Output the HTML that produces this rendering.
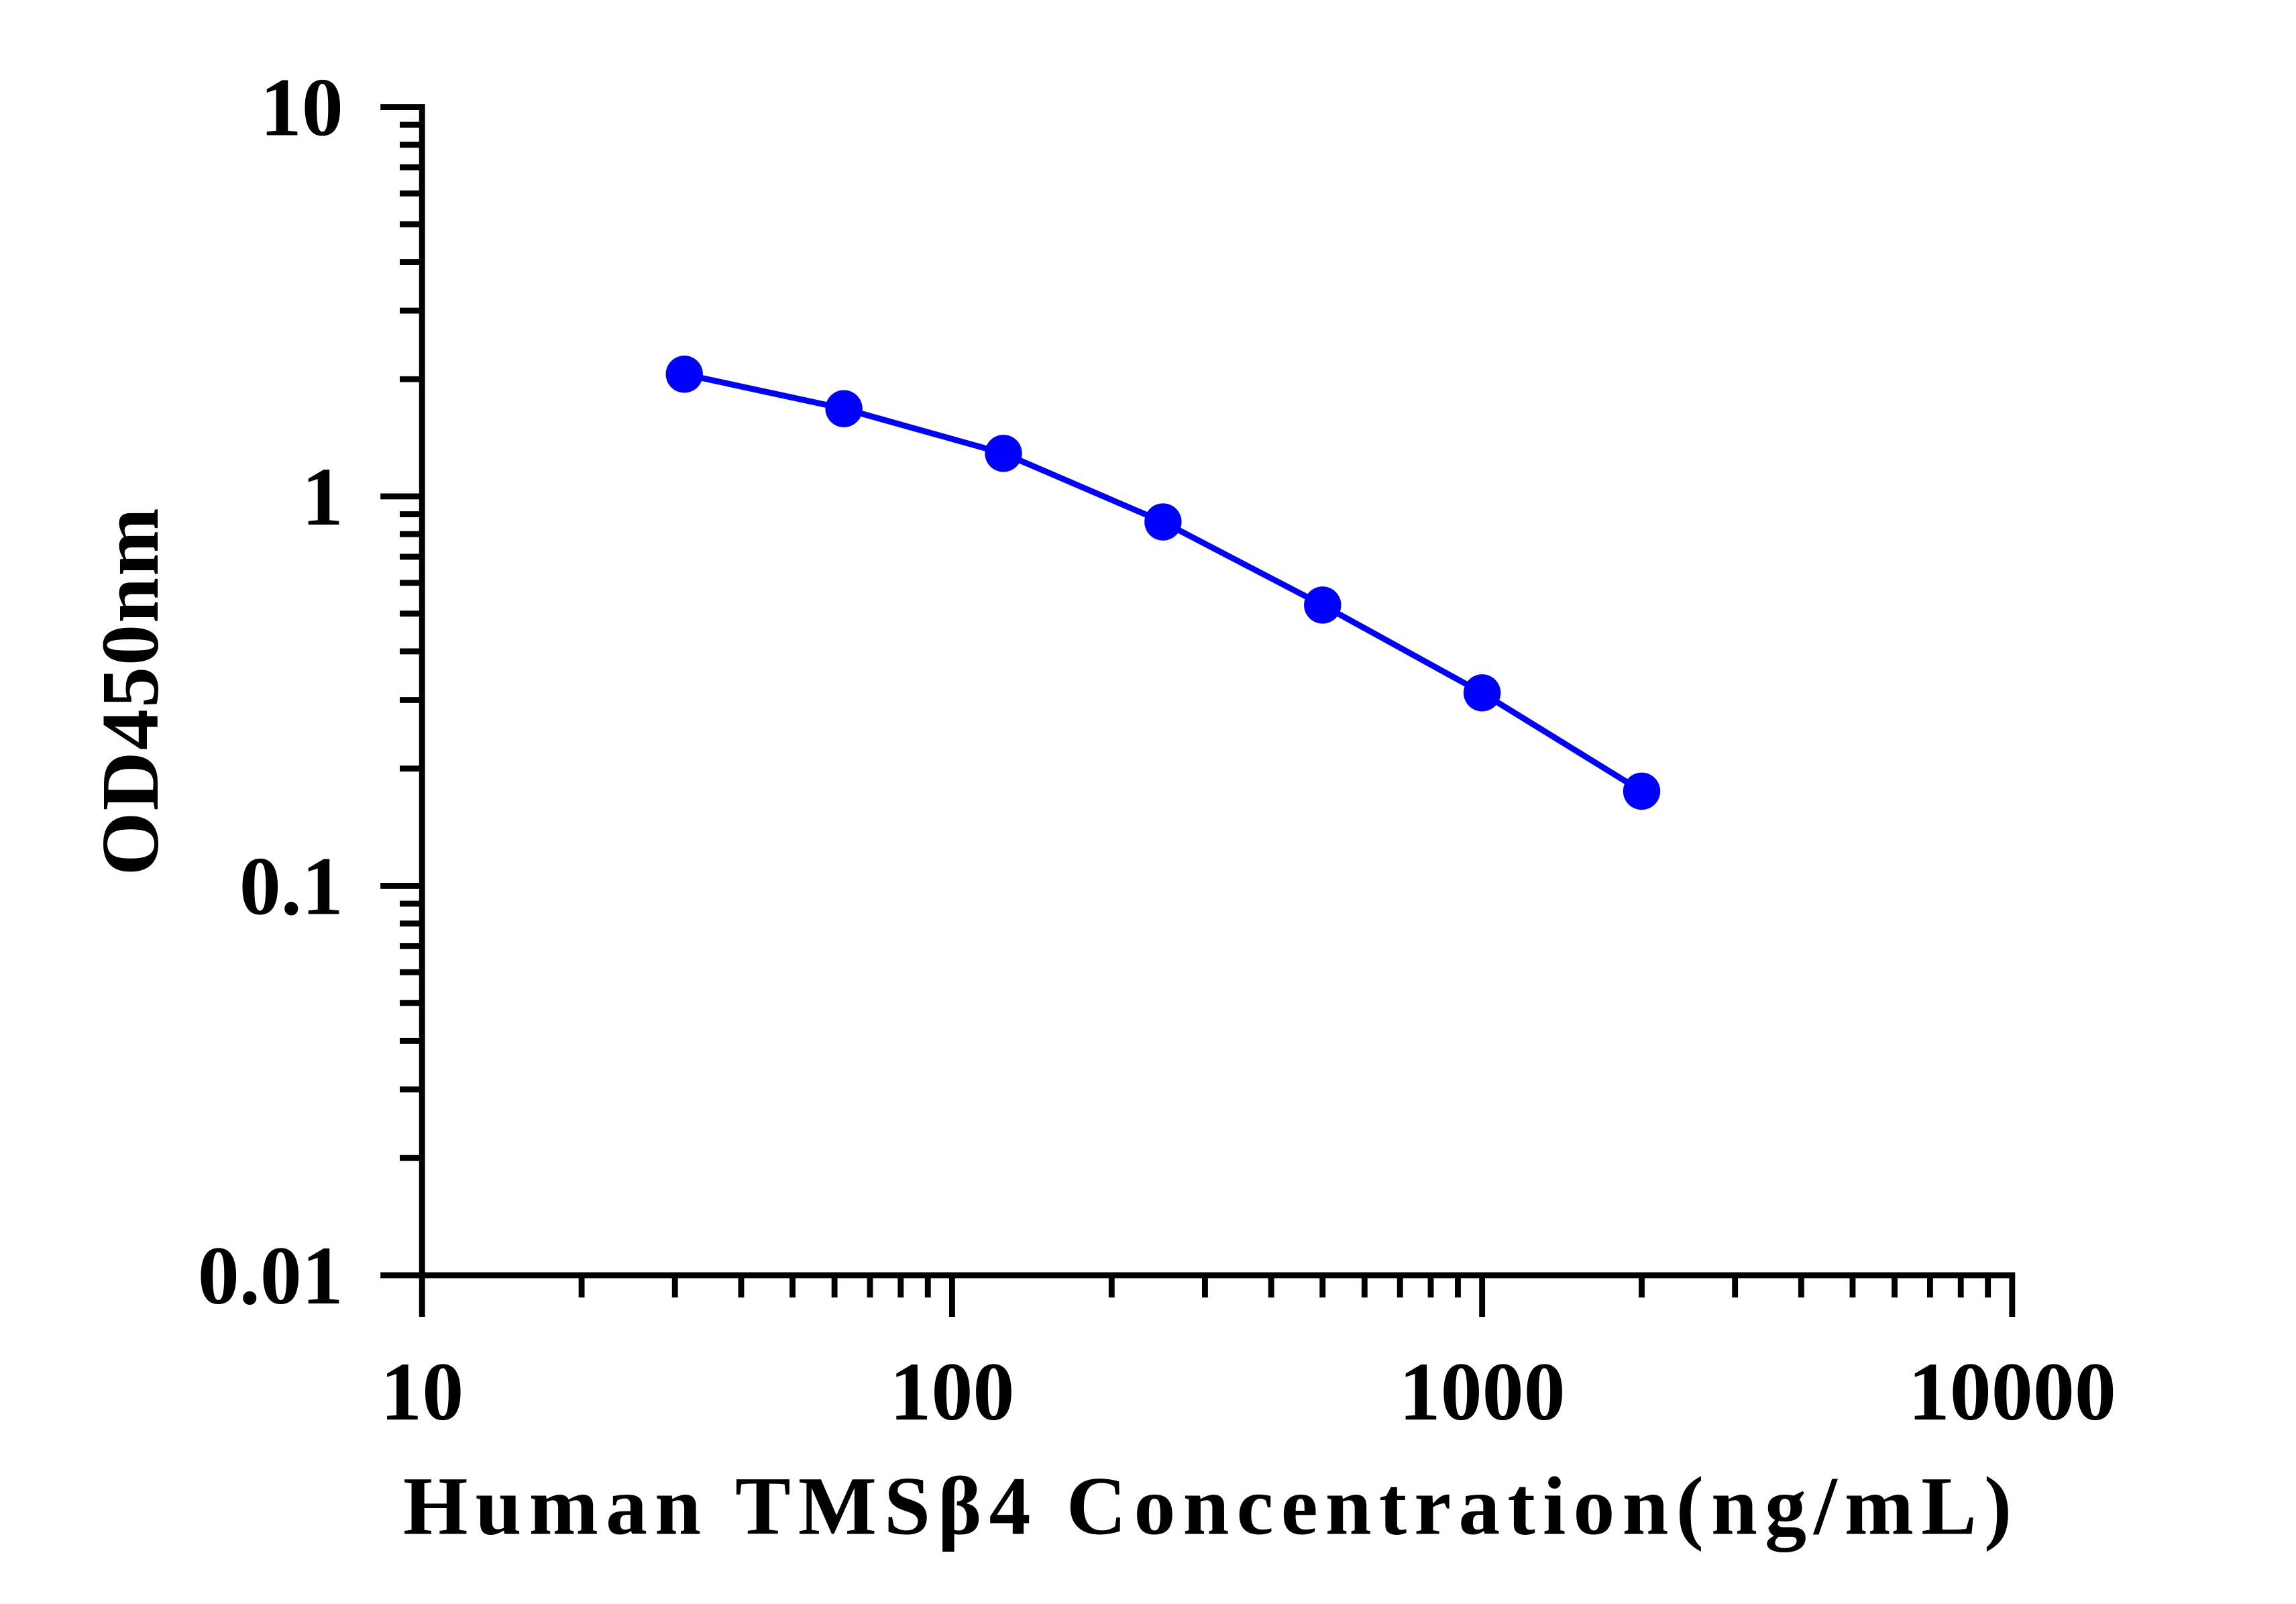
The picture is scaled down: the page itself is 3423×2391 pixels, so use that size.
<!DOCTYPE html>
<html><head><meta charset="utf-8"><style>
html,body{margin:0;padding:0;background:#fff;}
svg{display:block;}
text{font-family:"Liberation Serif",serif;font-weight:bold;fill:#000;}
</style></head><body>
<svg id="chart" width="3423" height="2391" viewBox="0 0 1545 1079.2" xmlns="http://www.w3.org/2000/svg">
<rect width="1545" height="1080" fill="#fff"/>
<g id="axes"></g>
<g id="series"></g>
<text x="815" y="1032" font-size="56" text-anchor="middle" letter-spacing="5">Human TMSβ4 Concentration(ng/mL)</text>
<text transform="translate(106,465) rotate(-90)" font-size="55" text-anchor="middle" letter-spacing="1">OD450nm</text>
</svg>
<script>
const xValues = [31.25, 62.5, 125, 250, 500, 1000, 2000];
const yValues = [2.06, 1.68, 1.29, 0.86, 0.526, 0.313, 0.175];
const xTickLabels = ["10", "100", "1000", "10000"];
const yTickLabels = ["0.01", "0.1", "1", "10"];

const NS = "http://www.w3.org/2000/svg";
const X0 = 284, X1 = 1354, Y0 = 858, Y1 = 72;
function xs(v){ return X0 + (Math.log10(v) - 1) / 3 * (X1 - X0); }
function ys(v){ return Y0 - (Math.log10(v) + 2) / 3 * (Y0 - Y1); }
function mk(tag, attrs, parent){
  const e = document.createElementNS(NS, tag);
  for (const k in attrs) e.setAttribute(k, attrs[k]);
  parent.appendChild(e); return e;
}
const axes = document.getElementById("axes");
const series = document.getElementById("series");

const xAxis = mk("line", {x1: X0, y1: Y0, x2: X1 + 2, y2: Y0, stroke: "#000", "stroke-width": 4}, axes);


const yAxis = mk("line", {x1: X0, y1: Y0 + 2, x2: X0, y2: Y1 - 2, stroke: "#000", "stroke-width": 4}, axes);



for (let d = 0; d < 3; d++) {
  for (let m = 1; m <= 10; m++) {
    if (m === 10 && d < 2) continue;
    const major = (m === 1 || m === 10);
    const xv = Math.pow(10, d + 1) * m;
    const xt = mk("line", {x1: xs(xv), y1: Y0, x2: xs(xv), y2: Y0 + (major ? 28 : 15), stroke: "#000", "stroke-width": 4}, axes);
    
    
    const yv = Math.pow(10, d - 2) * m;
    const yt = mk("line", {x1: X0, y1: ys(yv), x2: X0 - (major ? 28 : 15), y2: ys(yv), stroke: "#000", "stroke-width": 4}, axes);
    
    
  }
}
xTickLabels.forEach((lab) => {
  const t = mk("text", {x: xs(parseFloat(lab)), y: Y0 + 97, "font-size": 56, "text-anchor": "middle"}, axes);
  t.textContent = lab;
  
  
});
yTickLabels.forEach((lab) => {
  const t = mk("text", {x: 231, y: ys(parseFloat(lab)) + 19, "font-size": 56, "text-anchor": "end"}, axes);
  t.textContent = lab;
  
  
});

const pts = xValues.map((x, i) => xs(x) + "," + ys(yValues[i])).join(" ");
const line = mk("polyline", {points: pts, fill: "none", stroke: "#0000ff", "stroke-width": 4}, series);


xValues.forEach((x, i) => {
  const c = mk("circle", {cx: xs(x), cy: ys(yValues[i]), r: 12.5, fill: "#0000ff"}, series);
  
  
});
</script>
</body></html>
